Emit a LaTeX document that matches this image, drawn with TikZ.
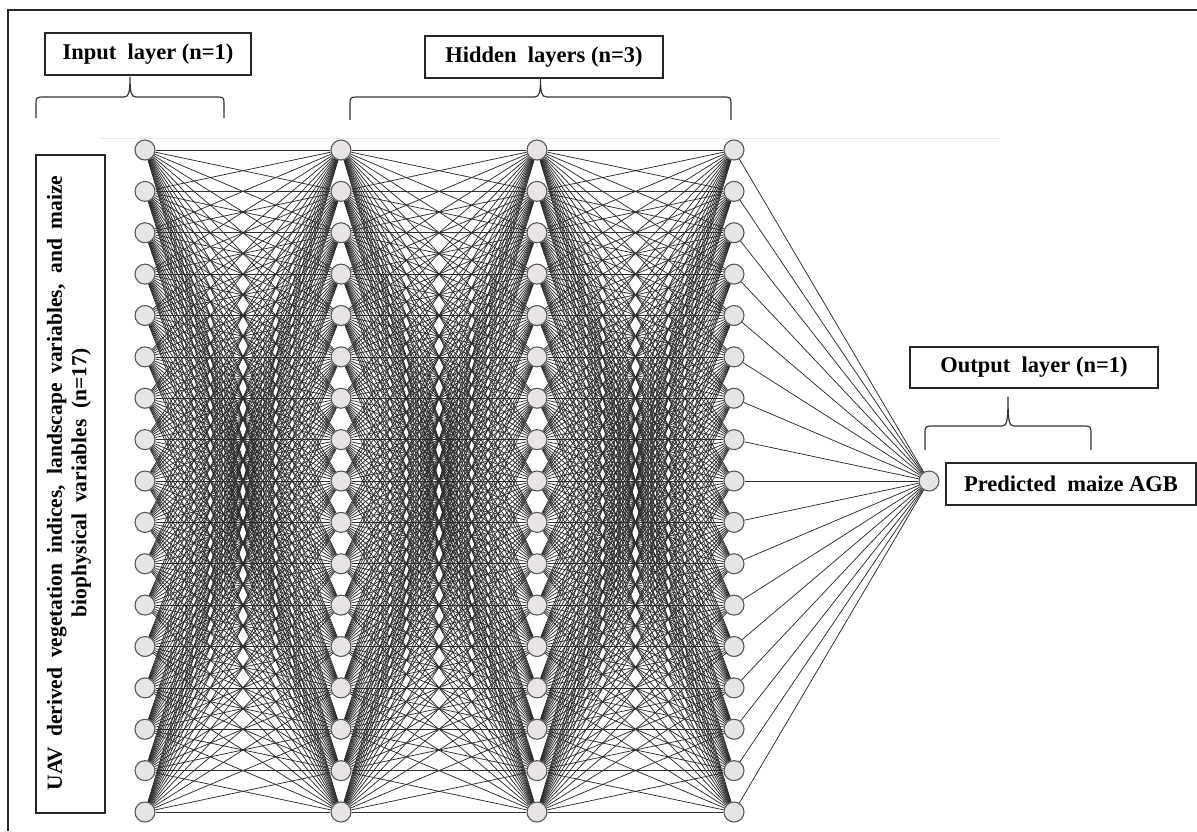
\documentclass[tikz,border=0pt]{standalone}
\usepackage{fontspec}
\setmainfont{Liberation Serif}
\usetikzlibrary{backgrounds}
\definecolor{nfill}{RGB}{232,227,228}
\definecolor{linkcol}{RGB}{45,45,45}
\newcommand{\drawbrk}[5]{% left, right, top, tip, peak
  \draw[bracket] (#1,#4) -- (#1,{#3+6}) .. controls (#1,{#3+1}) and ({#1+1},#3) .. ({#1+6},#3)
    -- ({(#1+#2)/2-6},#3) .. controls ({(#1+#2)/2-1},#3) and ({(#1+#2)/2},{#3-5}) .. ({(#1+#2)/2},#5)
    .. controls ({(#1+#2)/2},{#3-5}) and ({(#1+#2)/2+1},#3) .. ({(#1+#2)/2+6},#3)
    -- ({#2-6},#3) .. controls ({#2-1},#3) and (#2,{#3+1}) .. (#2,{#3+6}) -- (#2,#4);}
\begin{document}
\begin{tikzpicture}[x=1pt,y=-1pt,
  neuron/.style={circle,draw=black!65,fill=nfill,line width=1.1pt,minimum size=20pt,inner sep=0pt},
  link/.style={draw=linkcol,line width=0.75pt},
  labelbox/.style={draw=black!85,line width=1.2pt,inner sep=0pt,font=\fontsize{22.5}{26}\selectfont\bfseries},
  bracket/.style={draw=black!80,line width=1.2pt,line join=round}]
\useasboundingbox (0,0) rectangle (1197,831);
% frame
\draw[line width=2pt,black!85] (8,831) -- (8,10) -- (1197,10);
% faint guide line
\draw[black!8,line width=1pt] (100,138) -- (1000,138);
% label boxes
\node[labelbox,minimum width=206pt,minimum height=42pt] (inbox) at (148,54) {Input\ \ layer (n=1)};
\node[labelbox,minimum width=238pt,minimum height=42pt] (hidbox) at (544,57) {Hidden\ \ layers (n=3)};
\node[labelbox,minimum width=248pt,minimum height=41pt] (outbox) at (1034,367.5) {Output\ \ layer (n=1)};
\node[labelbox,minimum width=250pt,minimum height=42pt] (predbox) at (1071,484) {Predicted\ \ maize AGB};
\node[draw=black!85,line width=1.2pt,minimum width=69pt,minimum height=658pt,inner sep=0pt] (uavbox) at (70.5,484) {};
\node[rotate=90,align=center,inner sep=0pt,font=\fontsize{21.5}{24.5}\selectfont\bfseries] (uavtext) at (69,483)
  {\makebox[615pt][s]{UAV derived vegetation indices, landscape variables, and maize}\\ biophysical\hspace{0.5em}variables\hspace{0.5em}(n=17)};
% braces
\drawbrk{36}{224}{97}{118}{77}
\drawbrk{350}{731}{97}{120}{78}
\drawbrk{925}{1091}{426}{450}{397}
% neurons
\foreach \l/\x in {1/145,2/341,3/537,4/734}
  \foreach \i in {1,...,17}
    \node[neuron] (n\l-\i) at (\x,{150+(\i-1)*41.375}) {};
\node[neuron] (out) at (929,481) {};
% connections
\begin{scope}[on background layer]
\foreach \l in {1,2,3}{
  \pgfmathtruncatemacro{\nx}{\l+1}
  \foreach \i in {1,...,17}
    \foreach \j in {1,...,17}
      \draw[link] (n\l-\i) -- (n\nx-\j);
}
\foreach \i in {1,...,17}
  \draw[link] (n4-\i) -- (out);
\end{scope}
\end{tikzpicture}
\end{document}
